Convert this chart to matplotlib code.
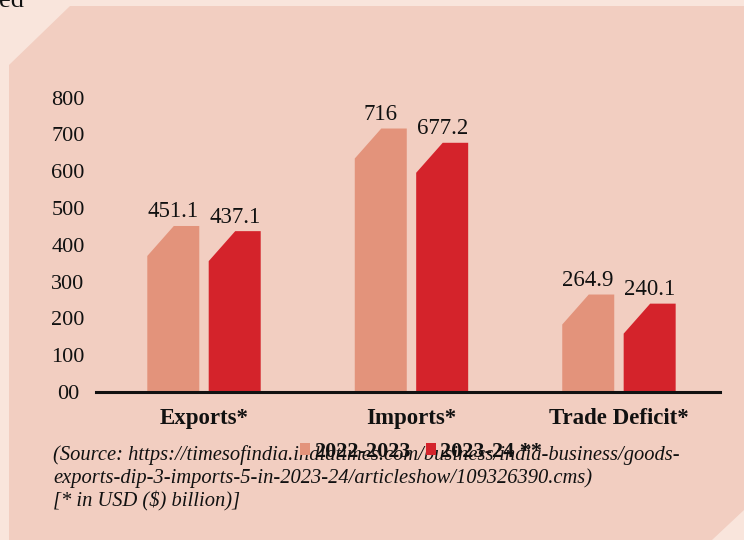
import matplotlib
matplotlib.use("Agg")
import matplotlib.pyplot as plt
from matplotlib.patches import Polygon, Patch
import numpy as np

# ---- data ----
categories = ["Exports*", "Imports*", "Trade Deficit*"]
series_names = ["2022-2023", "2023-24 **"]
values_2022 = [451.1, 716, 264.9]
values_2023 = [437.1, 677.2, 240.1]
value_labels_2022 = ["451.1", "716", "264.9"]
value_labels_2023 = ["437.1", "677.2", "240.1"]
ytick_values = [0, 100, 200, 300, 400, 500, 600, 700, 800]
ytick_labels = ["00", "100", "200", "300", "400", "500", "600", "700", "800"]
source_lines = [
    "(Source: https://timesofindia.indiatimes.com/business/india-business/goods-",
    "exports-dip-3-imports-5-in-2023-24/articleshow/109326390.cms)",
    "[* in USD ($) billion)]",
]

# ---- style ----
W, H = 744, 540
DPI = 100
outer_bg = "#F9E5DC"
panel_bg = "#F2CEC1"
c2022 = "#E3937B"
c2023 = "#D4232B"
serif = ["Liberation Serif", "DejaVu Serif"]
plt.rcParams["font.family"] = serif

fig = plt.figure(figsize=(W / DPI, H / DPI), dpi=DPI)
fig.patch.set_facecolor(outer_bg)

def fx(px):
    return px / W

def fy(py):
    return 1 - py / H

# background panel with cut corners (figure coords)
panel_pts = [(9, 540), (9, 65), (70, 6), (744, 6), (744, 510), (712, 540)]
fig.patches.append(Polygon([(fx(x), fy(y)) for x, y in panel_pts], closed=True,
                           transform=fig.transFigure, facecolor=panel_bg,
                           edgecolor="none", zorder=-5))

# clipped text fragment at top-left
fig.text(fx(-1), fy(7), "ed", fontsize=19, color="#111111", va="baseline", ha="left")

# axes geometry
base_px = 392
top_px = 60.8
left_px, right_px = 96, 720
ax = fig.add_axes([fx(left_px), fy(base_px), fx(right_px - left_px),
                   (base_px - top_px) / H])
ax.set_zorder(2)
ax.set_facecolor("none")
ymax = 900
ax.set_ylim(0, ymax)
ax.set_xlim(-0.5205, 2.487)

px_per_unit = (base_px - top_px) / ymax
bar_w = 0.2506
offset = 0.148
chamfer_dx = bar_w * 0.51
chamfer_dy = 30 / px_per_unit

x = np.arange(len(categories))

def chamfer_bar(xc, v, color):
    l, r = xc - bar_w / 2, xc + bar_w / 2
    pts = [(l, 0), (l, v - chamfer_dy), (l + chamfer_dx, v), (r, v), (r, 0)]
    ax.add_patch(Polygon(pts, closed=True, facecolor=color, edgecolor="none", zorder=2))

for i in range(len(categories)):
    chamfer_bar(x[i] - offset, values_2022[i], c2022)
    chamfer_bar(x[i] + offset, values_2023[i], c2023)
    ax.annotate(value_labels_2022[i], (x[i] - offset, values_2022[i]), xytext=(0, 6.2),
                textcoords="offset points", ha="center", va="baseline", fontsize=16.5,
                color="#111111")
    ax.annotate(value_labels_2023[i], (x[i] + offset, values_2023[i]), xytext=(0, 6.2),
                textcoords="offset points", ha="center", va="baseline", fontsize=16.5,
                color="#111111")

for s in ["top", "right", "left"]:
    ax.spines[s].set_visible(False)
ax.spines["bottom"].set_linewidth(2.2)
ax.spines["bottom"].set_color("#111111")
ax.spines["bottom"].set_zorder(3)

ax.set_yticks(ytick_values, ytick_labels)
ax.tick_params(axis="y", length=0, pad=28 * 72 / DPI, labelsize=16, labelcolor="#111111")
for lbl in ax.get_yticklabels():
    lbl.set_horizontalalignment("center")

ax.set_xticks(x, categories)
ax.tick_params(axis="x", length=0, pad=11.5, labelsize=16.5, labelcolor="#111111")
for lbl in ax.get_xticklabels():
    lbl.set_fontweight("bold")

# source text
for i, line in enumerate(source_lines):
    fig.text(fx(53), fy(455 + 23 * i), line, fontsize=14.8, style="italic",
             color="#111111", ha="left", va="center")

# legend (overlapping source text as in reference)
handles = [Patch(facecolor=c2022, edgecolor="none"), Patch(facecolor=c2023, edgecolor="none")]
leg = fig.legend(handles, series_names, loc="center", bbox_to_anchor=(fx(421), fy(452)),
                 ncol=2, frameon=False, handlelength=0.45, handleheight=0.45,
                 handletextpad=0.18, columnspacing=0.72, borderpad=0, borderaxespad=0,
                 prop={"family": serif, "weight": "bold", "size": 16})
for t in leg.get_texts():
    t.set_color("#111111")

fig.savefig("out.png", dpi=DPI, facecolor=fig.get_facecolor())
